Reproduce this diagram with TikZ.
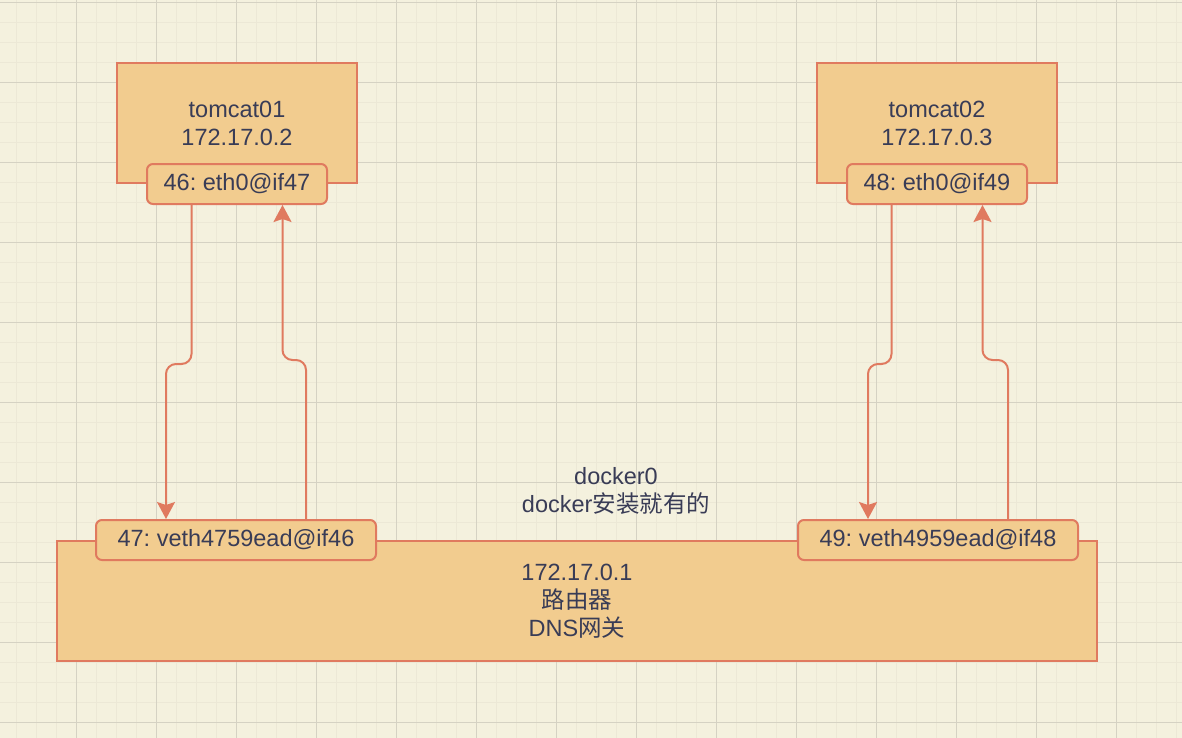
\documentclass[tikz,border=0pt]{standalone}
\usepackage{fontspec}
\setmainfont{Liberation Sans}
\newfontfamily\cjk{Noto Sans CJK SC}
\usetikzlibrary{positioning,arrows.meta}
\definecolor{paper}{HTML}{F4F1DE}
\definecolor{boxfill}{HTML}{F2CC8F}
\definecolor{boxline}{HTML}{E07A5F}
\definecolor{ink}{HTML}{393C56}
\definecolor{gridminor}{HTML}{ECE8D6}
\definecolor{gridmajor}{HTML}{D5D2C3}
\frenchspacing

\begin{document}
\begin{tikzpicture}[x=0.5pt,y=-0.5pt,font=\fontsize{11.75}{14}\selectfont]
                \tikzstyle{hostbox} = [rectangle, draw=boxline, fill=boxfill, line width=1pt, text=ink, align=center, minimum width=120pt, minimum height=60pt]
                \tikzstyle{iface} = [rectangle, rounded corners=3pt, draw=boxline, fill=boxfill, line width=1pt, text=ink, minimum width=90pt, minimum height=20pt, inner sep=0pt]
                \tikzstyle{arrow} = [draw=boxline, line width=1pt, rounded corners=5pt, -{Stealth[length=8.5pt,width=9pt,inset=1.5pt]}]

                \useasboundingbox (0,0) rectangle (1182,738);
                \fill [paper] (0,0) rectangle (1182,738);
                \foreach \i in {0,...,58} \draw [gridminor, line width=0.5pt] ({16.7+20*\i},0) -- ++(0,738);
                \foreach \j in {0,...,36} \draw [gridminor, line width=0.5pt] (0,{2.7+20*\j}) -- ++(1182,0);
                \foreach \i in {0,...,13} \draw [gridmajor, line width=0.5pt] ({76.7+80*\i},0) -- ++(0,738);
                \foreach \j in {0,...,9} \draw [gridmajor, line width=0.5pt] (0,{2.7+80*\j}) -- ++(1182,0);

                \node (tomcat01) [hostbox] at (237,123) {tomcat01\\172.17.0.2};
                \node (tomcat02) [hostbox] at (937,123) {tomcat02\\172.17.0.3};
                \node (eth46) [iface] at (tomcat01.south) {46: eth0@if47};
                \node (eth48) [iface] at (tomcat02.south) {48: eth0@if49};
                \node (bridge) [hostbox, minimum width=520pt] at (577,601) {172.17.0.1\\{\cjk 路由器}\\DNS{\cjk 网关}};
                \node (veth47) [iface, minimum width=140pt] at ([xshift=90pt]bridge.north west) {47: veth4759ead@if46};
                \node (veth49) [iface, minimum width=140pt] at ([xshift=-80pt]bridge.north east) {49: veth4959ead@if48};
                \node (docker0) [text=ink, align=center] at (616,491) {docker0\\docker{\cjk 安装就有的}};

                \draw [arrow] ([xshift=-22.75pt]eth46.south) -- ++(0,159) -| ([xshift=-35pt]veth47.north);
                \draw [arrow] ([xshift=35pt]veth47.north) -- ++(0,-159) -| ([xshift=22.75pt]eth46.south);
                \draw [arrow] ([xshift=-22.75pt]eth48.south) -- ++(0,159) -| ([xshift=-35pt]veth49.north);
                \draw [arrow] ([xshift=35pt]veth49.north) -- ++(0,-159) -| ([xshift=22.75pt]eth48.south);
            \end{tikzpicture}
\end{document}
